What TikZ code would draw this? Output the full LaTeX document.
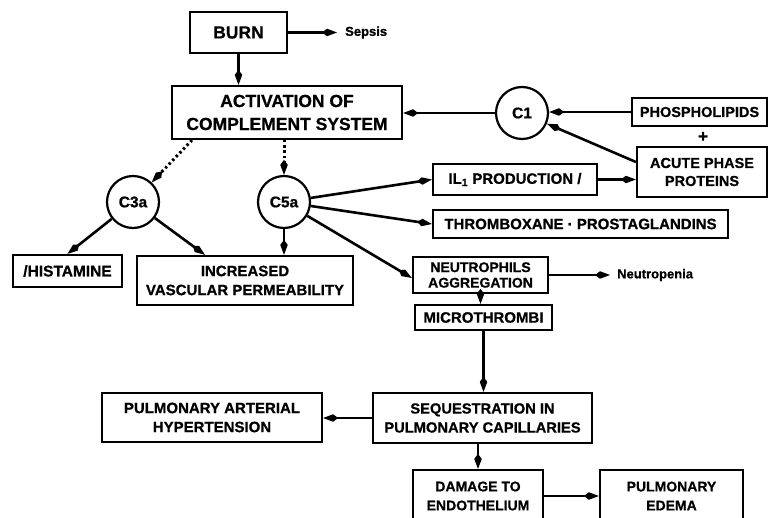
\documentclass[tikz,border=0pt]{standalone}
\usepackage{fontspec}
\setmainfont{Liberation Sans}[BoldFeatures={FakeBold=0.8}]
\usetikzlibrary{arrows.meta,calc}

\begin{document}
\begin{tikzpicture}[x=1pt,y=-1pt,
  box/.style={draw, line width=2.2pt, rectangle, align=center, inner sep=0pt,
              font=\bfseries\fontsize{14.5}{18}\selectfont},
  bigbox/.style={box, font=\bfseries\fontsize{17.5}{23}\selectfont},
  circ/.style={draw, circle, line width=2.2pt, minimum size=52pt, inner sep=0pt,
               font=\bfseries\fontsize{15.5}{18}\selectfont},
  lbl/.style={inner sep=0pt, font=\bfseries\fontsize{13}{16}\selectfont},
  arr/.style={line width=2.6pt, -{Kite[length=15pt,width=7.5pt,inset=5pt]}},
  dots/.style={arr, line width=3pt, dash pattern=on 2.4pt off 2.8pt}]

\clip (0,0) rectangle (768,518);

% boxes and circles
\node[bigbox, minimum width=97pt, minimum height=41pt] (burn) at (238.5,32.5) {BURN};
\node[lbl, anchor=west] (sepsis) at (345,32.5) {Sepsis};
\node[bigbox, minimum width=230pt, minimum height=53pt] (act) at (287,112.5) {ACTIVATION OF\\COMPLEMENT SYSTEM};
\node[circ] (c1) at (522,113) {C1};
\node[box, minimum width=135pt, minimum height=28pt] (phos) at (699.5,112) {PHOSPHOLIPIDS};
\node[inner sep=0pt, font=\bfseries\fontsize{17}{17}\selectfont] (plus) at (703,137) {+};
\node[box, minimum width=130pt, minimum height=50pt] (acute) at (702,172) {ACUTE PHASE\\PROTEINS};
\node[box, minimum width=164pt, minimum height=31pt, font=\bfseries\fontsize{15}{18}\selectfont] (il1) at (515,179.5) {IL\textsubscript{1} PRODUCTION /};
\node[box, minimum width=295pt, minimum height=28pt, font=\bfseries\fontsize{15}{18}\selectfont] (thx) at (580.5,224) {THROMBOXANE · PROSTAGLANDINS};
\node[circ] (c3a) at (133,202) {C3a};
\node[circ] (c5a) at (284,202) {C5a};
\node[box, minimum width=109pt, minimum height=32pt, font=\bfseries\fontsize{15.5}{18}\selectfont] (hist) at (67.5,271) {/HISTAMINE};
\node[box, minimum width=216pt, minimum height=49pt, font=\bfseries\fontsize{15}{19}\selectfont] (incr) at (245,280.5) {INCREASED\\VASCULAR PERMEABILITY};
\node[box, minimum width=135pt, minimum height=36pt, font=\bfseries\fontsize{14}{15.5}\selectfont] (neut) at (480.5,275) {NEUTROPHILS\\AGGREGATION};
\node[lbl, anchor=west] (neutropenia) at (617,275) {Neutropenia};
\node[box, minimum width=137pt, minimum height=25pt, font=\bfseries\fontsize{15}{18}\selectfont] (micro) at (483.5,317.5) {MICROTHROMBI};
\node[box, minimum width=220pt, minimum height=49pt, font=\bfseries\fontsize{15}{19}\selectfont] (pah) at (212,417.5) {PULMONARY ARTERIAL\\HYPERTENSION};
\node[box, minimum width=219pt, minimum height=50pt, font=\bfseries\fontsize{14.7}{19}\selectfont] (seq) at (482.5,418) {SEQUESTRATION IN\\PULMONARY CAPILLARIES};
\node[box, minimum width=130pt, minimum height=52pt, font=\bfseries\fontsize{14}{19}\selectfont] (dam) at (478,496) {DAMAGE TO\\ENDOTHELIUM};
\node[box, minimum width=143pt, minimum height=52pt, font=\bfseries\fontsize{14}{19}\selectfont] (edema) at (671.5,496) {PULMONARY\\EDEMA};

% connectors
\draw[arr] (burn.south) -- (burn.south |- act.north);
\draw[arr] (burn.east) -- ([xshift=-8pt]sepsis.west);
\draw[arr] (c1.west) -- (c1.west -| act.east);
\draw[arr] (phos.west) -- (phos.west -| c1.east);
\draw[arr] ([yshift=10pt]acute.west) -- (c1);
\draw[arr] (il1.east) -- (il1.east -| acute.west);
\draw[arr] (c5a) -- (il1.west);
\draw[arr] (c5a) -- (thx.west);
\draw[arr] (c5a) -- ([yshift=-3pt]neut.west);
\draw[arr] (c5a) -- (c5a |- incr.north);
\draw[arr] (c3a) -- (hist.north);
\draw[arr] (c3a) -- ([xshift=-40pt]incr.north);
\draw[dots] ([xshift=-95pt]act.south) -- (c3a);
\draw[dots] (c5a.north |- act.south) -- (c5a.north);
\draw[arr] (neut.east) -- ([xshift=-7pt]neutropenia.west);
\draw[arr] (neut.south) -- (neut.south |- micro.north);
\draw[arr] (micro.south) -- (micro.south |- seq.north);
\draw[arr] (seq.west) -- (seq.west -| pah.east);
\draw[arr] (seq.south -| dam.north) -- (dam.north);
\draw[arr] (dam.east) -- (dam.east -| edema.west);
\end{tikzpicture}
\end{document}
